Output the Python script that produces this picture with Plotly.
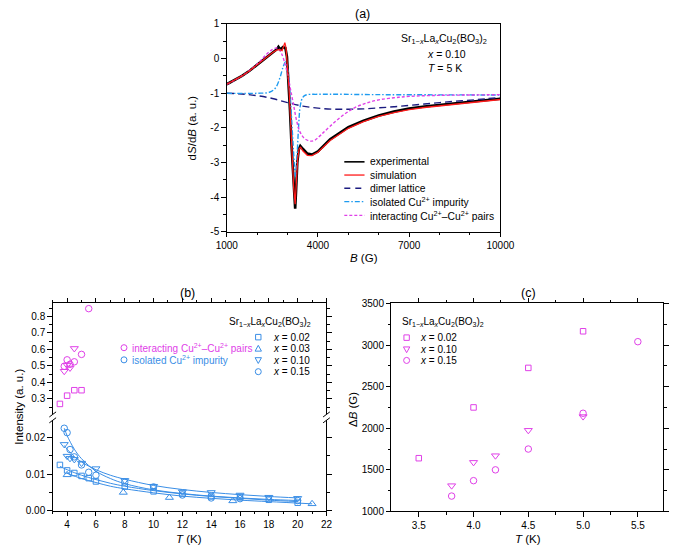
import plotly.graph_objects as go

W, H = 681, 552
FONT = "Liberation Sans, Arial, sans-serif"
BLACK = "#000000"
RED = "#FF1A1A"
NAVY = "#1C1C80"
LBLUE = "#1E9BF0"
MAG = "#E040E8"
BLUE = "#3A8EE6"

# ---------------- panel (a) data: field B (G) vs dS/dB ----------------
B_exp = [1000, 1250, 1500, 1750, 2000, 2250, 2500, 2650, 2700, 2760, 2850, 2930, 2980, 3030, 3080, 3130, 3180,
         3220, 3250, 3280, 3320, 3370, 3420, 3500, 3650, 3800, 4000, 4400, 5000, 5500, 6000, 6500, 7000, 7500,
         8000, 8500, 9000, 9500, 10000]
S_exp = [-0.74, -0.63, -0.50, -0.35, -0.18, 0.01, 0.17, 0.27, 0.34, 0.26, 0.33, 0.30, 0.05, -0.60, -1.50, -2.50,
         -3.40, -4.00, -4.33, -3.80, -3.00, -2.62, -2.52, -2.60, -2.74, -2.77, -2.68, -2.33, -1.98, -1.79, -1.64,
         -1.53, -1.44, -1.38, -1.33, -1.29, -1.25, -1.20, -1.16]
B_sim = [1000, 1250, 1500, 1750, 2000, 2250, 2500, 2650, 2750, 2820, 2870, 2910, 2950, 3000, 3050, 3100, 3150,
         3200, 3250, 3290, 3330, 3380, 3430, 3500, 3650, 3800, 4000, 4400, 5000, 5500, 6000, 6500, 7000, 7500,
         8000, 8500, 9000, 9500, 10000]
S_sim = [-0.74, -0.63, -0.50, -0.35, -0.18, 0.01, 0.17, 0.25, 0.26, 0.23, 0.38, 0.46, 0.30, -0.20, -0.90, -1.80,
         -2.80, -3.70, -4.20, -3.50, -2.90, -2.60, -2.56, -2.66, -2.79, -2.80, -2.70, -2.36, -2.01, -1.82, -1.67,
         -1.56, -1.47, -1.41, -1.36, -1.31, -1.27, -1.22, -1.18]
B_dim = [1000, 1500, 2000, 2500, 3000, 3500, 4000, 4500, 5000, 5500, 6000, 6500, 7000, 7500, 8000, 8500, 9000,
         9500, 10000]
S_dim = [-1.00, -1.02, -1.07, -1.15, -1.27, -1.37, -1.43, -1.46, -1.46, -1.45, -1.42, -1.39, -1.35, -1.31, -1.27,
         -1.23, -1.20, -1.16, -1.12]
B_iso = [1000, 2000, 2400, 2600, 2750, 2850, 2930, 3000, 3080, 3150, 3220, 3260, 3300, 3360, 3420, 3500, 3600,
         4000, 6000, 10000]
S_iso = [-1.00, -1.00, -0.97, -0.85, -0.55, -0.25, -0.10, -0.30, -1.00, -2.00, -3.00, -3.40, -3.00, -2.00, -1.35,
         -1.12, -1.05, -1.03, -1.04, -1.05]
B_int = [1000, 1500, 2000, 2400, 2600, 2700, 2800, 2900, 3000, 3100, 3200, 3300, 3400, 3550, 3750, 3900, 4100,
         4400, 4800, 5200, 5600, 6000, 6500, 7000, 8000, 9000, 10000]
S_int = [-0.74, -0.50, -0.16, 0.20, 0.30, 0.29, 0.15, -0.10, -0.45, -0.90, -1.35, -1.80, -2.10, -2.30, -2.38,
         -2.35, -2.20, -1.95, -1.65, -1.42, -1.28, -1.19, -1.13, -1.09, -1.06, -1.05, -1.04]

# ---------------- panel (b) data: intensity vs T ----------------
# interacting Cu2+-Cu2+ pairs (upper part)
Tp_002 = [3.5, 4.0, 4.5, 5.0]
Ip_002 = [0.27, 0.32, 0.353, 0.353]
Tp_010 = [3.8, 4.0, 4.2, 4.5]
Ip_010 = [0.468, 0.505, 0.488, 0.606]
Tp_015 = [3.8, 4.0, 4.2, 4.5, 5.0, 5.5]
Ip_015 = [0.498, 0.537, 0.51, 0.525, 0.57, 0.847]
# isolated Cu2+ impurity (lower part)
Ti_002 = [3.5, 4.0, 4.5, 5.0, 5.5, 6.0, 8.0, 10.0, 12.0, 14.0, 16.0, 18.0, 20.0]
Ii_002 = [0.0125, 0.0110, 0.0103, 0.0095, 0.0089, 0.0080, 0.0066, 0.0053, 0.0047, 0.0039, 0.0038, 0.0030, 0.0022]
Ti_003 = [4.0, 7.9, 11.1, 15.5, 21.0]
Ii_003 = [0.0098, 0.0050, 0.0036, 0.0027, 0.0019]
Ti_010 = [3.8, 4.0, 4.2, 4.5, 5.0, 6.0, 8.0, 10.0, 12.0, 14.0, 16.0, 18.0, 20.0]
Ii_010 = [0.0181, 0.0149, 0.0143, 0.0140, 0.0130, 0.0115, 0.0083, 0.0067, 0.0052, 0.0050, 0.0043, 0.0037, 0.0034]
Ti_015 = [3.8, 4.0, 4.2, 4.5, 5.0, 5.5, 6.0, 8.0, 10.0, 12.0, 14.0, 16.0, 20.0]
Ii_015 = [0.0225, 0.0213, 0.0167, 0.0147, 0.0125, 0.0105, 0.0097, 0.0078, 0.0065, 0.0043, 0.0035, 0.0033, 0.0028]
# fitted curves
Tf_002 = [3.5, 4, 4.5, 5, 6, 7, 8, 10, 12, 14, 16, 18, 20]
If_002 = [0.0121, 0.0112, 0.0104, 0.0097, 0.0085, 0.0075, 0.0067, 0.0055, 0.0046, 0.0039, 0.0034, 0.0029, 0.0025]
Tf_003 = [4, 5, 6, 7, 8, 10, 12, 14, 16, 18, 21]
If_003 = [0.0102, 0.0088, 0.0077, 0.0067, 0.0060, 0.0049, 0.0040, 0.0034, 0.0029, 0.0025, 0.0019]
Tf_010 = [3.8, 4, 4.5, 5, 6, 7, 8, 10, 12, 14, 16, 18, 20]
If_010 = [0.0178, 0.0168, 0.0148, 0.0133, 0.0112, 0.0097, 0.0086, 0.0069, 0.0058, 0.0050, 0.0044, 0.0039, 0.0035]
Tf_015 = [3.8, 4, 4.5, 5, 6, 7, 8, 10, 12, 14, 16, 18, 20]
If_015 = [0.0225, 0.0205, 0.0168, 0.0142, 0.0108, 0.0088, 0.0074, 0.0057, 0.0047, 0.0040, 0.0035, 0.0031, 0.0028]

# ---------------- panel (c) data: linewidth vs T ----------------
Tc_002 = [3.5, 4.0, 4.5, 5.0]
dB_002 = [1640, 2250, 2725, 3165]
Tc_010 = [3.8, 4.0, 4.2, 4.5, 5.0]
dB_010 = [1310, 1590, 1670, 1975, 2140]
Tc_015 = [3.8, 4.0, 4.2, 4.5, 5.0, 5.5]
dB_015 = [1185, 1370, 1500, 1750, 2180, 3040]

LEG_A = ["experimental", "simulation", "dimer lattice", "isolated Cu<sup>2+</sup> impurity",
         "interacting Cu<sup>2+</sup>–Cu<sup>2+</sup> pairs"]
LEG_X = ["<i>x</i> = 0.02", "<i>x</i> = 0.03", "<i>x</i> = 0.10", "<i>x</i> = 0.15"]
FORMULA = "Sr<sub>1−<i>x</i></sub>La<sub><i>x</i></sub>Cu<sub>2</sub>(BO<sub>3</sub>)<sub>2</sub>"


def px(x):
    return x / W


def py(y):
    return 1 - y / H


fig = go.Figure()

# ---- (a) traces ----
fig.add_trace(go.Scatter(x=B_exp, y=S_exp, mode="lines", line=dict(color=BLACK, width=2.6), xaxis="x", yaxis="y"))
fig.add_trace(go.Scatter(x=B_dim, y=S_dim, mode="lines", line=dict(color=NAVY, width=1.4, dash="7px,4px"),
                         xaxis="x", yaxis="y", line_shape="spline"))
fig.add_trace(go.Scatter(x=B_iso, y=S_iso, mode="lines", line=dict(color=LBLUE, width=1.4, dash="5px,2px,1.5px,2px"),
                         xaxis="x", yaxis="y", line_shape="spline"))
fig.add_trace(go.Scatter(x=B_int, y=S_int, mode="lines", line=dict(color=MAG, width=1.4, dash="3px,2px"),
                         xaxis="x", yaxis="y", line_shape="spline"))
fig.add_trace(go.Scatter(x=B_sim, y=S_sim, mode="lines", line=dict(color=RED, width=1.3), xaxis="x", yaxis="y"))

# ---- (b) traces ----
mk = dict(size=6, color="rgba(0,0,0,0)")
for T, I in [(Tf_002, If_002), (Tf_003, If_003), (Tf_010, If_010), (Tf_015, If_015)]:
    fig.add_trace(go.Scatter(x=T, y=I, mode="lines", line=dict(color=BLUE, width=1.0, shape="spline"),
                             xaxis="x2", yaxis="y2"))
for T, I, sym, sz in [(Ti_002, Ii_002, "square-open", 5.5), (Ti_003, Ii_003, "triangle-up-open", 7),
                      (Ti_010, Ii_010, "triangle-down-open", 7), (Ti_015, Ii_015, "circle-open", 6.5)]:
    fig.add_trace(go.Scatter(x=T, y=I, mode="markers", marker=dict(symbol=sym, size=sz, color=BLUE,
                                                                     line=dict(width=1, color=BLUE)),
                             xaxis="x2", yaxis="y2"))
for T, I, sym, sz in [(Tp_002, Ip_002, "square-open", 5.5), (Tp_010, Ip_010, "triangle-down-open", 7),
                      (Tp_015, Ip_015, "circle-open", 6.5)]:
    fig.add_trace(go.Scatter(x=T, y=I, mode="markers", marker=dict(symbol=sym, size=sz, color=MAG,
                                                                     line=dict(width=1, color=MAG)),
                             xaxis="x3", yaxis="y3"))

# ---- (c) traces ----
for T, D, sym, sz in [(Tc_002, dB_002, "square-open", 5.5), (Tc_010, dB_010, "triangle-down-open", 7),
                      (Tc_015, dB_015, "circle-open", 6.5)]:
    fig.add_trace(go.Scatter(x=T, y=D, mode="markers", marker=dict(symbol=sym, size=sz, color=MAG,
                                                                     line=dict(width=1, color=MAG)),
                             xaxis="x4", yaxis="y4"))

tickfont = dict(family=FONT, size=10, color=BLACK)
base = dict(showline=True, linecolor=BLACK, linewidth=1, ticks="outside", ticklen=4.5, tickwidth=1,
            tickcolor=BLACK, showgrid=False, zeroline=False, tickfont=tickfont)


def minor(d):
    return dict(dtick=d, ticks="outside", ticklen=2.5, tickwidth=1, tickcolor=BLACK, showgrid=False)


fig.update_layout(
    width=W, height=H, margin=dict(l=0, r=0, t=0, b=0), showlegend=False,
    paper_bgcolor="white", plot_bgcolor="white",
    xaxis=dict(base, domain=[px(224), px(508)], anchor="y", range=[1000, 10000], tick0=1000, dtick=3000,
               tickformat="d", mirror=True, minor=minor(1000)),
    yaxis=dict(base, domain=[py(231), py(18.3)], anchor="x", range=[-5, 1], tickmode="array",
               tickvals=[-5, -4, -3, -2, -1, 0, 1], ticktext=["-5", "-4", "-3", "-2", "-1", "0", "1"],
               mirror=True, minor=minor(0.5)),
    xaxis2=dict(base, domain=[px(43.3), px(327.5)], anchor="y2", range=[3, 22], tick0=0, dtick=2,
                minor=minor(1)),
    yaxis2=dict(base, domain=[py(516), py(423.5)], anchor="x2", range=[0, 0.02467], tick0=0, dtick=0.01,
                tickformat=".2f", mirror="allticks", minor=minor(0.005)),
    xaxis3=dict(base, domain=[px(43.3), px(327.5)], anchor="y3", side="top", range=[3, 22], tick0=0, dtick=2,
                showticklabels=False, minor=minor(1)),
    yaxis3=dict(base, domain=[py(417.5), py(304)], anchor="x3", range=[0.2064, 0.8788], tick0=0, dtick=0.1,
                tickformat=".1f", mirror="allticks", minor=minor(0.05)),
    xaxis4=dict(base, domain=[px(395), px(677)], anchor="y4", range=[3.251, 5.731], tick0=3.5, dtick=0.5,
                tickformat=".1f", mirror="allticks", minor=minor(0.25)),
    yaxis4=dict(base, domain=[py(516.7), py(304)], anchor="x4", range=[1000, 3500], tick0=1000, dtick=500,
                tickformat="d", mirror="allticks", minor=minor(250)),
)

ann = []


def text(x, y, s, size=10.5, xanchor="center", color=BLACK, angle=0):
    ann.append(dict(x=px(x), y=py(y), xref="paper", yref="paper", text=s, showarrow=False, xanchor=xanchor,
                    yanchor="middle", textangle=angle, font=dict(family=FONT, size=size, color=color)))


shapes = []


def seg(x0, y0, x1, y1, color=BLACK, width=1, dash="solid"):
    shapes.append(dict(type="line", xref="paper", yref="paper", x0=px(x0), y0=py(y0), x1=px(x1), y1=py(y1),
                       line=dict(color=color, width=width, dash=dash)))


def sym(kind, x, y, color, r=2.8):
    if kind == "square":
        shapes.append(dict(type="rect", xref="paper", yref="paper", x0=px(x - r), x1=px(x + r), y0=py(y + r),
                           y1=py(y - r), line=dict(color=color, width=1)))
    elif kind == "circle":
        shapes.append(dict(type="circle", xref="paper", yref="paper", x0=px(x - r - 0.3), x1=px(x + r + 0.3),
                           y0=py(y + r + 0.3), y1=py(y - r - 0.3), line=dict(color=color, width=1)))
    else:
        s = -1 if kind == "up" else 1
        pts = [(x - r - 0.5, y - s * (r - 0.3)), (x + r + 0.5, y - s * (r - 0.3)), (x, y + s * (r + 0.6))]
        path = "M {} {} L {} {} L {} {} Z".format(*[v for p in pts for v in (px(p[0]), py(p[1]))])
        shapes.append(dict(type="path", xref="paper", yref="paper", path=path, line=dict(color=color, width=1)))


# titles
text(365, 8.5, "(a)", 12.5)
text(183, 293.5, "(b)", 12.5)
text(537, 293.5, "(c)", 12.5)
# axis titles
text(366, 258, "<i>B</i> (G)", 11.5)
text(188, 125, "d<i>S</i>/d<i>B</i> (a. u.)", 11.5, angle=-90)
text(185, 545, "<i>T</i> (K)", 11.5)
text(8, 410, "Intensity (a. u.)", 11.5, angle=-90)
text(537, 545, "<i>T</i> (K)", 11.5)
text(355, 412, "Δ<i>B</i> (G)", 11.5, angle=-90)

# (a) inner text
text(450, 34, FORMULA, 10.5)
text(452, 49, "<i>x</i> = 0.10", 10.5)
text(451, 63.5, "<i>T</i> = 5 K", 10.5)

# (a) legend
leg_y = [159.3, 172.8, 186.3, 200, 214]
leg_style = [(BLACK, 1.6, "solid"), (RED, 1.3, "solid"), (NAVY, 1.4, "6px,5px"),
             (LBLUE, 1.4, "5px,2px,1.5px,2px"), (MAG, 1.4, "3px,2px")]
for yy, lab, (c, w, d) in zip(leg_y, LEG_A, leg_style):
    seg(346, yy, 367, yy, c, w, d)
    text(370.5, yy, lab, 10.3, xanchor="left")

# (b) legends
text(269, 323.5, FORMULA, 10)
for yy, lab, kind in zip([338.5, 350.3, 362, 373.8], LEG_X, ["square", "up", "down", "circle"]):
    sym(kind, 256.7, yy, BLUE)
    text(269.5, yy, lab, 10, xanchor="left")
sym("circle", 117.3, 349.3, MAG)
text(123.5, 349.3, "interacting Cu<sup>2+</sup>–Cu<sup>2+</sup> pairs", 10, xanchor="left", color=MAG)
sym("circle", 117.3, 361.7, BLUE)
text(123.5, 361.7, "isolated Cu<sup>2+</sup> impurity", 10, xanchor="left", color=BLUE)

# (c) legend
text(404, 323.5, FORMULA, 10, xanchor="left")
for yy, lab, kind in zip([339, 351, 362.3], [LEG_X[0], LEG_X[2], LEG_X[3]], ["square", "down", "circle"]):
    sym(kind, 410.7, yy, MAG)
    text(423, yy, lab, 10, xanchor="left")

# axis-break marks in (b)
for xb in (43.3, 327.5):
    for yb in (417.5, 423.5):
        seg(xb - 3.5, yb + 2.6, xb + 3.5, yb - 2.6, BLACK, 1)

fig.update_layout(annotations=ann, shapes=shapes)
fig.write_html("out.html")
